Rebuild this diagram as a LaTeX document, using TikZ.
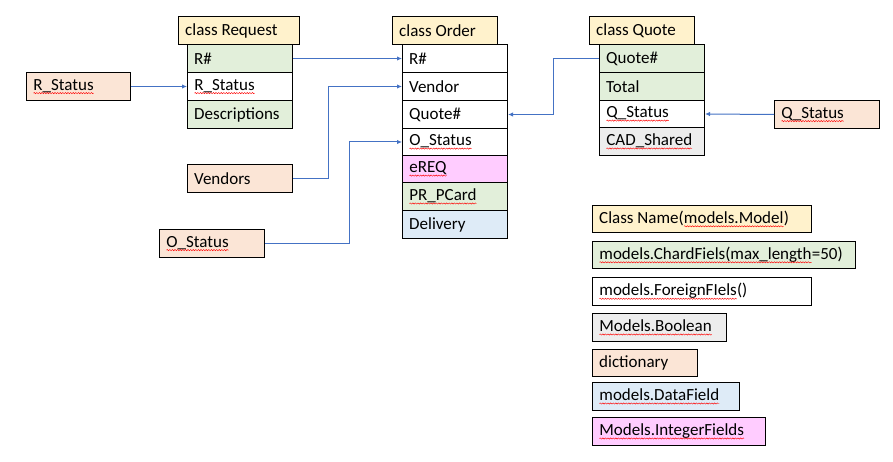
\documentclass[tikz,border=0pt]{standalone}
\usepackage{fontspec}
\setmainfont{Carlito}
\usetikzlibrary{arrows.meta,decorations.pathmorphing}
\definecolor{hdr}{HTML}{FFF2CC}
\definecolor{grn}{HTML}{E2EFDA}
\definecolor{pch}{HTML}{FBE5D6}
\definecolor{blu}{HTML}{DEEBF7}
\definecolor{pnk}{HTML}{FFCCFF}
\definecolor{gry}{HTML}{EDEDED}
\definecolor{lnk}{HTML}{4472C4}
\newcommand\sq[1]{\tikz[baseline=(sqw.base)]{\node[inner sep=0pt,outer sep=0pt](sqw){#1};\draw[red,line width=0.45pt,decorate,decoration={snake,amplitude=0.6pt,segment length=2.6pt}]([yshift=-3pt]sqw.base west)--([yshift=-3pt]sqw.base east);}}
\tikzset{
  box/.style={draw=black, line width=1pt, inner sep=0pt, anchor=north west},
  lbl/.style={anchor=west, inner sep=0pt, font=\fontsize{17}{20}\selectfont},
  conn/.style={draw=lnk, line width=1pt},
  arr/.style={conn, -{Latex[length=5pt,width=4.5pt]}}
}
\newcommand\bx[7]{%
  \node[box, fill=#6, minimum width=#4pt, minimum height=#5pt] (#1) at (#2,#3) {};
  \node[lbl] (#1t) at ([xshift=7pt]#1.west) {#7};}
\begin{document}
\begin{tikzpicture}[x=1pt,y=-1pt]
\useasboundingbox[fill=white] (0,0) rectangle (893,462);
% class Request
\bx{rh}{178}{16}{121}{28}{hdr}{class Request}
\bx{r1}{187}{44}{105}{28}{grn}{R\#}
\bx{r2}{187}{72}{105}{28}{white}{\sq{R\_Status}}
\bx{r3}{187}{100}{105}{28}{grn}{Descriptions}
% class Order
\bx{oh}{392}{16}{105}{28}{hdr}{class Order}
\bx{o1}{402}{44}{105}{28}{white}{R\#}
\bx{o2}{402}{72}{105}{28}{white}{Vendor}
\bx{o3}{402}{100}{105}{28}{white}{Quote\#}
\bx{o4}{402}{128}{105}{27}{white}{\sq{O\_Status}}
\bx{o5}{402}{155}{105}{27}{pnk}{\sq{eREQ}}
\bx{o6}{402}{182}{105}{28}{grn}{\sq{PR\_PCard}}
\bx{o7}{402}{210}{105}{28}{blu}{Delivery}
% class Quote
\bx{qh}{589}{16}{105}{28}{hdr}{class Quote}
\bx{q1}{599}{44}{105}{28}{grn}{Quote\#}
\bx{q2}{599}{72}{105}{28}{grn}{Total}
\bx{q3}{599}{100}{105}{27}{white}{\sq{Q\_Status}}
\bx{q4}{599}{127}{105}{28}{gry}{\sq{CAD\_Shared}}
% dictionaries
\bx{drs}{26}{72}{104}{28}{pch}{\sq{R\_Status}}
\bx{dven}{187}{164}{105}{28}{pch}{Vendors}
\bx{dos}{159}{229}{105}{28}{pch}{\sq{O\_Status}}
\bx{dqs}{774}{100}{105}{28}{pch}{\sq{Q\_Status}}
% legend
\bx{l1}{592}{205}{219}{27}{hdr}{Class Name(\sq{models.Model})}
\bx{l2}{592}{241}{263}{27}{grn}{\sq{models.ChardFiels(max\_length}=50)}
\bx{l3}{592}{277}{219}{28}{white}{\sq{models.ForeignFIels}()}
\bx{l4}{592}{313}{134}{28}{gry}{\sq{Models.Boolean}}
\bx{l5}{592}{349}{105}{27}{pch}{dictionary}
\bx{l6}{592}{382}{147}{28}{blu}{\sq{models.DataField}}
\bx{l7}{592}{417}{173}{28}{pnk}{\sq{Models.IntegerFields}}
% connectors
\draw[arr] (drs.east) -- (r2.west);
\draw[arr] (r1.east) -- (o1.west);
\draw[arr] (dven.east) -- ++(35,0) |- (o2.west);
\draw[arr] (dos.east) -- ++(84,0) |- (o4.west);
\draw[arr] (q1.west) -- ++(-46,0) |- (o3.east);
\draw[arr] (dqs.west) -- (q3.east);
\end{tikzpicture}
\end{document}
